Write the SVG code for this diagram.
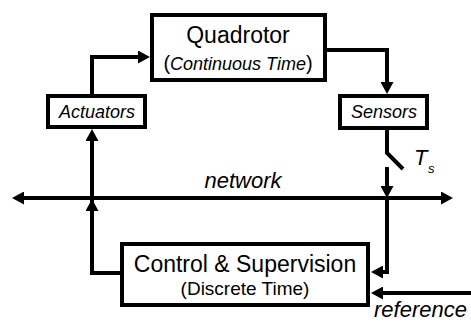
<svg xmlns="http://www.w3.org/2000/svg" width="471" height="322" viewBox="0 0 471 322">
<defs>
<marker id="ah" viewBox="0 0 12 13" refX="0" refY="6.5" markerWidth="12" markerHeight="13" markerUnits="userSpaceOnUse" orient="auto-start-reverse">
<path d="M0,0 L12,6.5 L0,13 z" fill="#000"/>
</marker>
</defs>
<style>
.box{fill:#fff;stroke:#000;stroke-width:4}
.ln{fill:none;stroke:#000;stroke-width:4;stroke-linejoin:miter}
text{font-family:"Liberation Sans",Arial,sans-serif;fill:#000}
.it{font-style:italic}
</style>
<rect width="471" height="322" fill="#fff"/>
<g id="connectors">
<path class="ln" d="M92,96 V57 H138" marker-end="url(#ah)"/>
<path class="ln" d="M325,50 H387 V82" marker-end="url(#ah)"/>
<path class="ln" d="M387,128 V153 L403,169"/>
<path class="ln" d="M387,167 V186" marker-end="url(#ah)"/>
<path class="ln" d="M24,198 H441" marker-start="url(#ah)" marker-end="url(#ah)"/>
<path class="ln" d="M387,198 V272 H383" marker-end="url(#ah)"/>
<path class="ln" d="M471,293 H383" marker-end="url(#ah)"/>
<path class="ln" d="M122,273 H92 V141" marker-end="url(#ah)"/>
<path class="ln" d="M92,218 V211" marker-end="url(#ah)"/>
</g>
<g id="quadrotor">
<rect class="box" x="152" y="15" width="173" height="65"/>
<text x="238" y="43" font-size="23" text-anchor="middle">Quadrotor</text>
<text x="238" y="70" font-size="18" text-anchor="middle"><tspan font-size="20">(</tspan><tspan class="it">Continuous Time</tspan><tspan font-size="20">)</tspan></text>
</g>
<g id="actuators">
<rect class="box" x="48" y="96" width="97" height="31"/>
<text class="it" x="97" y="118" font-size="18" text-anchor="middle">Actuators</text>
</g>
<g id="sensors">
<rect class="box" x="340" y="96" width="87" height="32"/>
<text class="it" x="384" y="118" font-size="18" text-anchor="middle">Sensors</text>
</g>
<g id="control">
<rect class="box" x="122" y="244" width="246" height="61"/>
<text x="245" y="272" font-size="23" text-anchor="middle">Control &amp; Supervision</text>
<text x="245" y="295" font-size="19" text-anchor="middle">(Discrete Time)</text>
</g>
<g id="labels">
<text class="it" x="243" y="188" font-size="22" text-anchor="middle">network</text>
<text class="it" x="374" y="317" font-size="22">reference</text>
<text class="it" x="414" y="165" font-size="22">T</text>
<text class="it" x="428" y="173" font-size="13">s</text>
</g>
</svg>
